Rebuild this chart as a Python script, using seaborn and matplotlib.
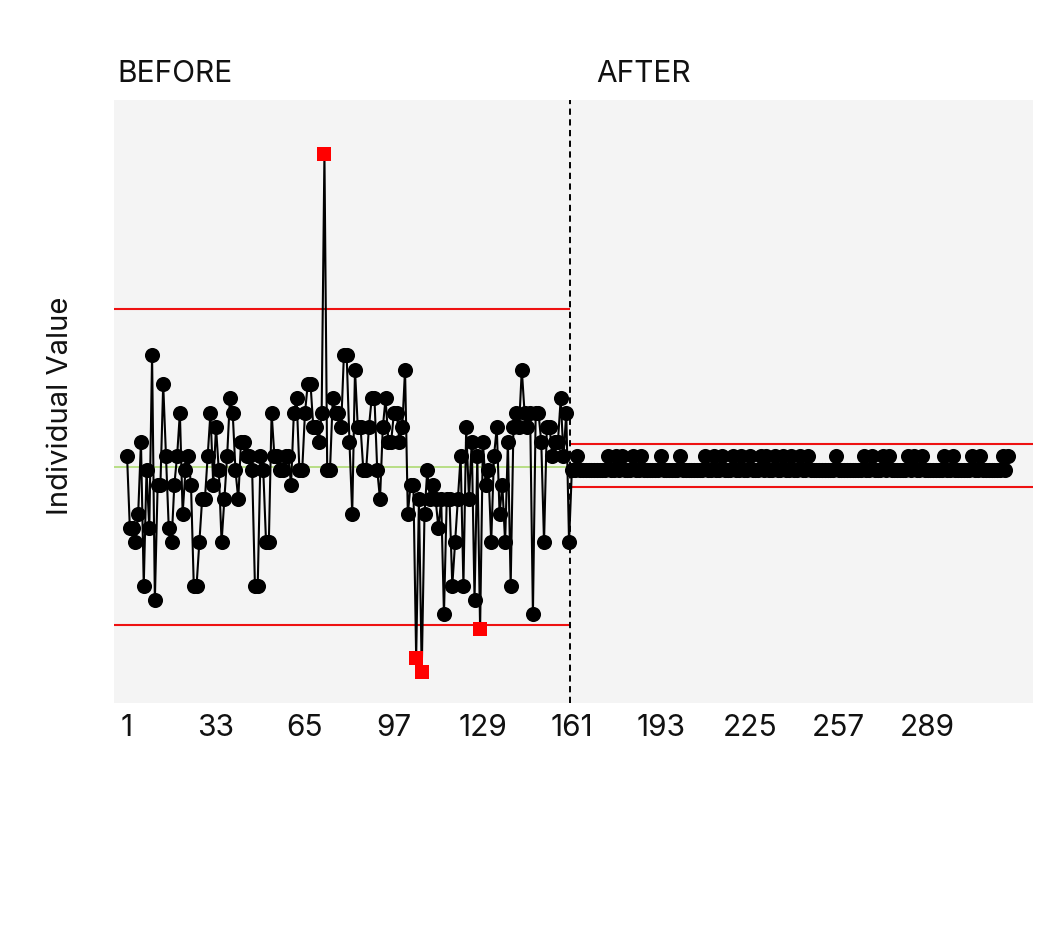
import numpy as np
import pandas as pd
import matplotlib
matplotlib.use("Agg")
import matplotlib.pyplot as plt
import seaborn as sns

# ---------------- data ----------------
before_values = [
    51, 46, 46, 45, 47, 52, 42, 50, 46, 58,
    41, 49, 49, 56, 51, 46, 45, 49, 51, 54,
    47, 50, 51, 49, 42, 42, 45, 48, 48, 51,
    54, 49, 53, 50, 45, 48, 51, 55, 54, 50,
    48, 52, 52, 51, 51, 50, 42, 42, 51, 50,
    45, 45, 54, 51, 51, 50, 50, 51, 51, 49,
    54, 55, 50, 50, 54, 56, 56, 53, 53, 52,
    54, 72, 50, 50, 55, 54, 54, 53, 58, 58,
    52, 47, 57, 53, 53, 50, 50, 53, 55, 55,
    50, 48, 53, 55, 52, 52, 54, 54, 52, 53,
    57, 47, 49, 49, 37, 48, 36, 47, 50, 48,
    49, 48, 46, 48, 40, 48, 48, 42, 45, 48,
    51, 42, 53, 48, 52, 41, 51, 39, 52, 49,
    50, 45, 51, 53, 47, 49, 45, 52, 42, 53,
    54, 53, 57, 54, 53, 54, 40, 54, 54, 52,
    45, 53, 53, 51, 52, 52, 55, 51, 54, 45,
]
after_values = [
    50, 50, 51, 50, 50, 50, 50, 50, 50, 50, 50, 50, 50, 51, 50, 50, 51, 50, 51, 50,
    50, 50, 51, 50, 50, 51, 50, 50, 50, 50, 50, 50, 51, 50, 50, 50, 50, 50, 50, 51,
    50, 50, 50, 50, 50, 50, 50, 50, 51, 50, 50, 51, 50, 50, 51, 50, 50, 50, 51, 50,
    50, 51, 50, 50, 51, 50, 50, 50, 51, 50, 51, 50, 50, 51, 50, 50, 51, 50, 50, 51,
    50, 50, 51, 50, 50, 51, 50, 50, 50, 50, 50, 50, 50, 50, 50, 51, 50, 50, 50, 50,
    50, 50, 50, 50, 50, 51, 50, 50, 51, 50, 50, 50, 51, 50, 51, 50, 50, 50, 50, 50,
    50, 51, 50, 51, 50, 50, 51, 50, 50, 50, 50, 50, 50, 50, 51, 50, 50, 51, 50, 50,
    50, 50, 50, 50, 51, 50, 50, 51, 50, 50, 50, 50, 50, 50, 50, 51, 50, 51,
]
phase_labels = ["BEFORE", "AFTER"]
tick_labels = [1, 33, 65, 97, 129, 161, 193, 225, 257, 289]

before_cl, before_ucl, before_lcl = 50.24, 61.22, 39.27
after_ucl, after_lcl = 51.82, 48.875
phase_split = 160.5

# ---------------- build frame ----------------
values = before_values + after_values
obs = np.arange(1, len(values) + 1)
df = pd.DataFrame({"obs": obs, "value": values})
df["phase"] = np.where(df["obs"] <= len(before_values), "before", "after")
ucl = np.where(df["phase"] == "before", before_ucl, after_ucl)
lcl = np.where(df["phase"] == "before", before_lcl, after_lcl)
df["ooc"] = (df["value"] > ucl) | (df["value"] < lcl)

# ---------------- style ----------------
sns.set_theme(style="white")
plt.rcParams["font.family"] = ["Inter", "DejaVu Sans"]

W, H = 1064, 926
fig = plt.figure(figsize=(W / 100, H / 100), dpi=100)
L, R, T, B = 114, 1033, 100, 703
ax = fig.add_axes([L / W, 1 - B / H, (R - L) / W, (B - T) / H])
ax.set_facecolor("#f4f4f4")

xmin, xmax = -3.7, 326.9
ymin, ymax = 33.85, 75.73

# control lines
ax.hlines(before_cl, xmin, phase_split, colors="#b8de86", lw=1.4, zorder=1)
ax.hlines([before_ucl, before_lcl], xmin, phase_split, colors="#ee1111", lw=1.5, zorder=1)
ax.hlines([after_ucl, after_lcl], phase_split, xmax, colors="#ee1111", lw=1.5, zorder=1)
ax.axvline(phase_split, color="black", lw=1.4, ls=(0, (3.2, 2.3)), zorder=1)

sns.lineplot(data=df, x="obs", y="value", color="black", lw=1.5,
             estimator=None, sort=False, ax=ax, zorder=2)
sns.scatterplot(data=df[~df["ooc"]], x="obs", y="value", color="black",
                marker="o", s=118, linewidth=0, ax=ax, zorder=3)
sns.scatterplot(data=df[df["ooc"]], x="obs", y="value", color="#ff0000",
                marker="s", s=100, linewidth=0, ax=ax, zorder=4)

ax.set_xlim(xmin, xmax)
ax.set_ylim(ymin, ymax)
ax.set_xticks(tick_labels)
ax.set_xticklabels([str(t) for t in tick_labels], fontsize=21.5, color="#111111")
ax.set_yticks([])
ax.tick_params(axis="x", length=0, pad=8)
ax.set_xlabel("")
ax.set_ylabel("")
for s in ax.spines.values():
    s.set_visible(False)

fig.text(117 / W, 1 - 82.5 / H, phase_labels[0], fontsize=21.5,
         ha="left", va="baseline", color="#111111")
fig.text(596 / W, 1 - 82.5 / H, phase_labels[1], fontsize=21.5,
         ha="left", va="baseline", color="#111111")
fig.text(68.5 / W, 1 - 406 / H, "Individual Value", fontsize=21, rotation=90,
         rotation_mode="anchor", ha="center", va="baseline", color="#111111")

fig.savefig("out.png", dpi=100, facecolor="white")
